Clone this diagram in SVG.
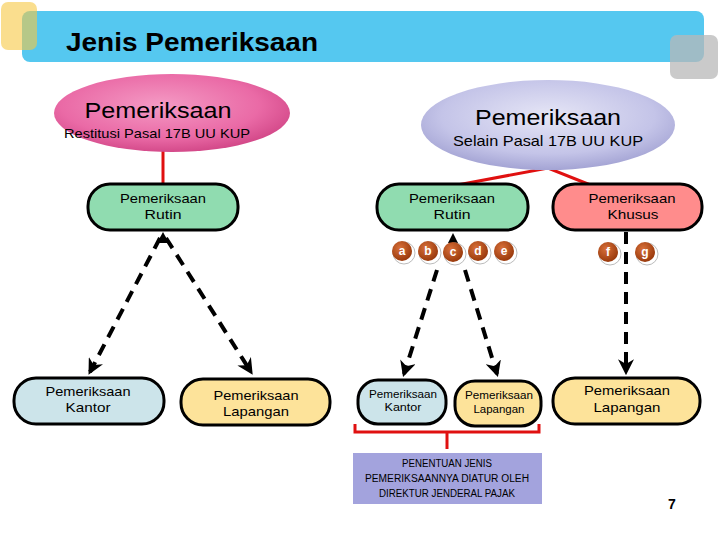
<svg xmlns="http://www.w3.org/2000/svg" width="720" height="540" viewBox="0 0 720 540">
<defs>
<radialGradient id="gPink" cx="0.45" cy="0.4" r="0.6">
<stop offset="0" stop-color="#f49ac4"/><stop offset="0.7" stop-color="#ea6aa6"/><stop offset="1" stop-color="#d44a8a"/>
</radialGradient>
<radialGradient id="gLav" cx="0.5" cy="0.4" r="0.6">
<stop offset="0" stop-color="#e6e6f6"/><stop offset="0.7" stop-color="#c4c4e8"/><stop offset="1" stop-color="#a4a4d4"/>
</radialGradient>
<radialGradient id="gBall" cx="0.4" cy="0.35" r="0.65">
<stop offset="0" stop-color="#d8703a"/><stop offset="1" stop-color="#9a3a0c"/>
</radialGradient>
<marker id="ah" viewBox="0 0 10 10" refX="8" refY="5" markerWidth="4" markerHeight="4" orient="auto-start-reverse" markerUnits="strokeWidth">
<path d="M0,0 L10,5 L0,10 L3,5 z" fill="#000"/>
</marker>
<style>
.box{stroke:#000;stroke-width:3}
.t{font-family:"Liberation Sans",Arial,sans-serif;fill:#000;text-anchor:middle}
.dash{stroke:#000;stroke-width:4;stroke-dasharray:12,8;fill:none}
.red{stroke:#e01010;stroke-width:3;fill:none}
.ball{fill:url(#gBall)}
.sh{fill:#fff;stroke:#bbb;stroke-width:1}
.bt{font-family:"Liberation Sans",Arial,sans-serif;font-size:12px;font-weight:bold;fill:#fff;text-anchor:middle}
</style>
</defs>
<rect width="720" height="540" fill="#fff"/>
<g id="header">
<rect x="22" y="11" width="682" height="51" rx="8" fill="#55c8f0"/>
<rect x="1" y="2" width="36" height="48" rx="7" fill="#f6c842" opacity="0.6"/>
<rect x="670" y="35" width="48" height="44" rx="7" fill="#b8b8b8" opacity="0.75"/>
<text x="66" y="51" font-family="Liberation Sans,Arial,sans-serif" font-size="26" font-weight="bold" fill="#000" textLength="252" lengthAdjust="spacingAndGlyphs">Jenis Pemeriksaan</text>
</g>
<g id="connectors">
<line class="red" x1="163" y1="150" x2="163" y2="184"/>
<polyline class="red" points="452,186 548,168 593,186"/>
<line class="dash" x1="160" y1="238" x2="90" y2="372" marker-end="url(#ah)"/>
<line class="dash" x1="166" y1="238" x2="251" y2="372" marker-end="url(#ah)"/>
<path d="M163,232 L157,243 L169,243 z" fill="#000"/>
<path d="M453,233 L448,243 L458,243 z" fill="#000"/>
<line class="dash" x1="437" y1="270" x2="404" y2="374" marker-end="url(#ah)"/>
<line class="dash" x1="465" y1="270" x2="497" y2="374" marker-end="url(#ah)"/>
<line class="dash" x1="626" y1="232" x2="626" y2="372" marker-end="url(#ah)"/>
<polyline class="red" points="355,424 355,432 539,432 539,424"/>
<line class="red" x1="447" y1="432" x2="447" y2="449"/>
</g>
<g id="restitusi">
<ellipse cx="172" cy="113" rx="118" ry="39" fill="url(#gPink)"/>
<text class="t" x="158" y="118" font-size="22" textLength="147" lengthAdjust="spacingAndGlyphs">Pemeriksaan</text>
<text class="t" x="157" y="138" font-size="13.5" textLength="186" lengthAdjust="spacingAndGlyphs">Restitusi Pasal 17B UU KUP</text>
</g>
<g id="selain">
<ellipse cx="548" cy="125" rx="127" ry="45" fill="url(#gLav)"/>
<text class="t" x="548" y="125" font-size="22" textLength="146" lengthAdjust="spacingAndGlyphs">Pemeriksaan</text>
<text class="t" x="548" y="146" font-size="15" textLength="190" lengthAdjust="spacingAndGlyphs">Selain Pasal 17B UU KUP</text>
</g>
<g id="rutin1">
<rect class="box" x="88" y="184" width="150" height="46" rx="22" fill="#90dcb0"/>
<text class="t" x="163" y="203" font-size="13" textLength="86" lengthAdjust="spacingAndGlyphs">Pemeriksaan</text>
<text class="t" x="163" y="219" font-size="13.5" textLength="37" lengthAdjust="spacingAndGlyphs">Rutin</text>
</g>
<g id="rutin2">
<rect class="box" x="377" y="184" width="151" height="46" rx="22" fill="#90dcb0"/>
<text class="t" x="452" y="203" font-size="13" textLength="86" lengthAdjust="spacingAndGlyphs">Pemeriksaan</text>
<text class="t" x="452" y="219" font-size="13.5" textLength="37" lengthAdjust="spacingAndGlyphs">Rutin</text>
</g>
<g id="khusus">
<rect class="box" x="553" y="184" width="149" height="46" rx="22" fill="#ff8c8c"/>
<text class="t" x="632" y="203" font-size="13" textLength="87" lengthAdjust="spacingAndGlyphs">Pemeriksaan</text>
<text class="t" x="633" y="219" font-size="13.5" textLength="51" lengthAdjust="spacingAndGlyphs">Khusus</text>
</g>
<g id="balls">
<circle class="sh" cx="404" cy="253" r="11"/><circle class="ball" cx="402" cy="251" r="10"/><text class="bt" x="402" y="255">a</text>
<circle class="sh" cx="430" cy="253" r="11"/><circle class="ball" cx="428" cy="251" r="10"/><text class="bt" x="428" y="255">b</text>
<circle class="sh" cx="455" cy="254" r="11"/><circle class="ball" cx="453" cy="252" r="10"/><text class="bt" x="453" y="256">c</text>
<circle class="sh" cx="480" cy="253" r="11"/><circle class="ball" cx="478" cy="251" r="10"/><text class="bt" x="478" y="255">d</text>
<circle class="sh" cx="506" cy="253" r="11"/><circle class="ball" cx="504" cy="251" r="10"/><text class="bt" x="504" y="255">e</text>
<circle class="sh" cx="610" cy="254" r="11"/><circle class="ball" cx="608" cy="252" r="10"/><text class="bt" x="608" y="256">f</text>
<circle class="sh" cx="647" cy="254" r="11"/><circle class="ball" cx="645" cy="252" r="10"/><text class="bt" x="645" y="256">g</text>
</g>
<g id="kantor1">
<rect class="box" x="14" y="378" width="150" height="46" rx="22" fill="#cce4ea"/>
<text class="t" x="88" y="396" font-size="13" textLength="85" lengthAdjust="spacingAndGlyphs">Pemeriksaan</text>
<text class="t" x="88" y="412" font-size="13.5" textLength="45" lengthAdjust="spacingAndGlyphs">Kantor</text>
</g>
<g id="lapangan1">
<rect class="box" x="181" y="379" width="149" height="46" rx="22" fill="#fde39a"/>
<text class="t" x="256" y="400" font-size="13" textLength="85" lengthAdjust="spacingAndGlyphs">Pemeriksaan</text>
<text class="t" x="256" y="416" font-size="13.5" textLength="66" lengthAdjust="spacingAndGlyphs">Lapangan</text>
</g>
<g id="kantor2">
<rect class="box" x="358" y="380" width="88" height="44" rx="20" fill="#cce4ea"/>
<text class="t" x="403" y="398" font-size="10.5" textLength="68" lengthAdjust="spacingAndGlyphs">Pemeriksaan</text>
<text class="t" x="403" y="411" font-size="10.5" textLength="37" lengthAdjust="spacingAndGlyphs">Kantor</text>
</g>
<g id="lapangan2">
<rect class="box" x="455" y="381" width="86" height="45" rx="20" fill="#fde39a"/>
<text class="t" x="499" y="399" font-size="10.5" textLength="68" lengthAdjust="spacingAndGlyphs">Pemeriksaan</text>
<text class="t" x="499" y="413" font-size="10.5" textLength="51" lengthAdjust="spacingAndGlyphs">Lapangan</text>
</g>
<g id="lapangan3">
<rect class="box" x="553" y="378" width="147" height="46" rx="22" fill="#fde39a"/>
<text class="t" x="627" y="395" font-size="13" textLength="86" lengthAdjust="spacingAndGlyphs">Pemeriksaan</text>
<text class="t" x="627" y="412" font-size="13.5" textLength="67" lengthAdjust="spacingAndGlyphs">Lapangan</text>
</g>
<g id="note">
<rect x="353" y="453" width="189" height="51" fill="#a3a3dd"/>
<text class="t" x="447" y="467" font-size="10" textLength="90" lengthAdjust="spacingAndGlyphs">PENENTUAN JENIS</text>
<text class="t" x="447" y="482" font-size="10" textLength="164" lengthAdjust="spacingAndGlyphs">PEMERIKSAANNYA DIATUR OLEH</text>
<text class="t" x="447" y="497" font-size="10" textLength="136" lengthAdjust="spacingAndGlyphs">DIREKTUR JENDERAL PAJAK</text>
</g>
<text x="672" y="509" font-family="Liberation Sans,Arial,sans-serif" font-size="14" font-weight="bold" fill="#000" text-anchor="middle">7</text>
</svg>
